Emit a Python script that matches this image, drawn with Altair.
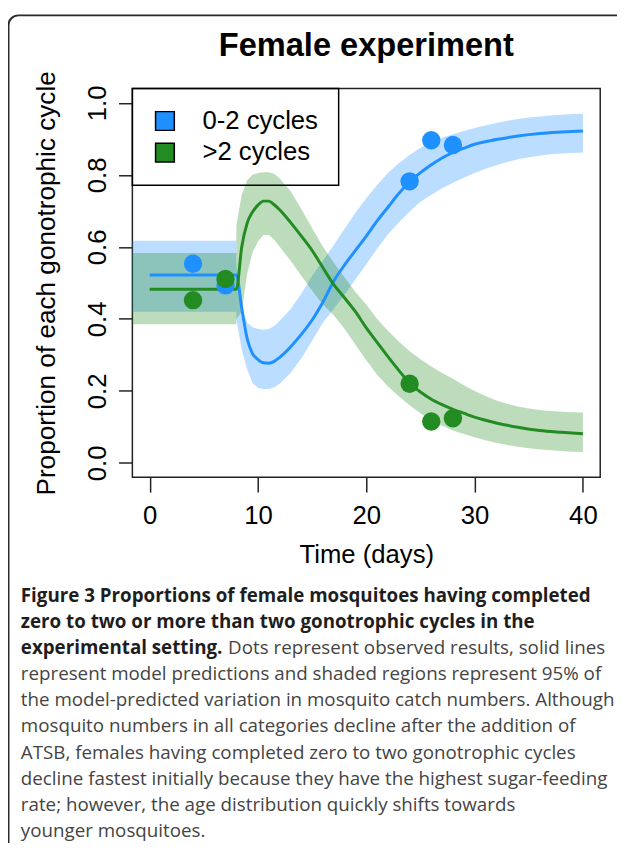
import altair as alt
import pandas as pd

# ---------------- data ----------------
series_names = ["0-2 cycles", ">2 cycles"]
series_colors = ["#1E90FF", "#228B22"]

obs_days = [4, 7, 24, 26, 28]
obs_blue = [0.553, 0.493, 0.782, 0.896, 0.883]
obs_green = [0.452, 0.511, 0.220, 0.115, 0.124]

line_days = [0, 8, 8.5, 9, 9.5, 10, 10.5, 11, 11.5, 12, 13, 14, 15, 16, 17, 18, 19,
             20, 21, 22, 23, 24, 25, 26, 27, 28, 29, 30, 32, 34, 36, 38, 40]
blue_line = [0.522, 0.522, 0.43, 0.345, 0.303, 0.287, 0.278, 0.277, 0.282, 0.293, 0.322,
             0.357, 0.397, 0.447, 0.505, 0.55, 0.59, 0.63, 0.672, 0.71, 0.748, 0.78, 0.806,
             0.828, 0.847, 0.862, 0.874, 0.885, 0.898, 0.908, 0.915, 0.919, 0.922]
green_line = [0.482, 0.482, 0.60, 0.666, 0.697, 0.716, 0.727, 0.727, 0.717, 0.703, 0.668,
              0.63, 0.59, 0.542, 0.495, 0.458, 0.42, 0.375, 0.335, 0.295, 0.257, 0.222, 0.197,
              0.177, 0.162, 0.149, 0.138, 0.127, 0.111, 0.099, 0.09, 0.085, 0.081]

band_days = [-2, 8, 8, 8.5, 9, 9.5, 10, 10.5, 11, 11.5, 12, 13, 14, 15, 16, 17, 18, 19, 20,
             21, 22, 23, 24, 25, 26, 27, 28, 29, 30, 31, 32, 33, 34, 35, 36, 37, 38, 39, 40]
blue_lo = [0.42, 0.42, 0.40, 0.315, 0.26, 0.222, 0.208, 0.205, 0.205, 0.21, 0.22, 0.25, 0.29,
           0.34, 0.39, 0.428, 0.468, 0.51, 0.552, 0.595, 0.635, 0.668, 0.698, 0.725, 0.745,
           0.763, 0.778, 0.792, 0.805, 0.817, 0.827, 0.836, 0.843, 0.849, 0.853, 0.857, 0.859,
           0.861, 0.862]
blue_hi = [0.617, 0.617, 0.55, 0.43, 0.39, 0.377, 0.372, 0.37, 0.372, 0.38, 0.395, 0.427, 0.47,
           0.52, 0.562, 0.605, 0.65, 0.695, 0.735, 0.772, 0.805, 0.832, 0.855, 0.875, 0.89,
           0.903, 0.913, 0.922, 0.93, 0.937, 0.944, 0.95, 0.955, 0.959, 0.962, 0.965, 0.967,
           0.969, 0.97]
green_lo = [0.385, 0.385, 0.40, 0.42, 0.525, 0.585, 0.615, 0.633, 0.633, 0.62, 0.60, 0.562,
            0.52, 0.478, 0.44, 0.41, 0.372, 0.328, 0.285, 0.245, 0.212, 0.185, 0.16, 0.138,
            0.118, 0.103, 0.09, 0.08, 0.071, 0.063, 0.056, 0.05, 0.045, 0.041, 0.038, 0.035,
            0.033, 0.031, 0.03]
green_hi = [0.583, 0.583, 0.66, 0.745, 0.785, 0.80, 0.805, 0.807, 0.807, 0.803, 0.79, 0.755,
            0.705, 0.652, 0.6, 0.556, 0.515, 0.475, 0.44, 0.40, 0.367, 0.337, 0.31, 0.288,
            0.268, 0.25, 0.234, 0.216, 0.2, 0.186, 0.173, 0.164, 0.157, 0.151, 0.147, 0.144,
            0.142, 0.141, 0.14]

x_ticks = [0, 10, 20, 30, 40]
y_ticks = [0.0, 0.2, 0.4, 0.6, 0.8, 1.0]

chart_title = "Female experiment"
x_title = "Time (days)"
y_title = "Proportion of each gonotrophic cycle"

caption_bold = [
    "Figure 3 Proportions of female mosquitoes having completed",
    "zero to two or more than two gonotrophic cycles in the",
    "experimental setting.",
]
caption_regular = [
    "Dots represent observed results, solid lines",
    "represent model predictions and shaded regions represent 95% of",
    "the model-predicted variation in mosquito catch numbers. Although",
    "mosquito numbers in all categories decline after the addition of",
    "ATSB, females having completed zero to two gonotrophic cycles",
    "decline fastest initially because they have the highest sugar-feeding",
    "rate; however, the age distribution quickly shifts towards",
    "younger mosquitoes.",
]

# ---------------- layout constants ----------------
W, H = 474, 394
PAD_L, PAD_T, PAD_R = 126, 76, 17
TOTAL_H = 835
AX_FONT = "Liberation Sans"
CAP_FONT = "Open Sans"
CAP_SIZE_B = 19
CAP_SIZE_R = 19
CAP_X = -113
CAP_Y0 = 520
CAP_DY = 26.5
REG_X3 = 97

# ---------------- tables ----------------
obs_df = pd.DataFrame({
    "day": obs_days + obs_days,
    "value": obs_blue + obs_green,
    "series": [series_names[0]] * len(obs_days) + [series_names[1]] * len(obs_days),
})
blue_line_df = pd.DataFrame({"day": line_days, "value": blue_line})
green_line_df = pd.DataFrame({"day": line_days, "value": green_line})
blue_band_df = pd.DataFrame({"day": band_days, "lo": blue_lo, "hi": blue_hi})
green_band_df = pd.DataFrame({"day": band_days, "lo": green_lo, "hi": green_hi})

bold_df = pd.DataFrame({
    "text": caption_bold,
    "px": [CAP_X] * len(caption_bold),
    "py": [CAP_Y0 + CAP_DY * i for i in range(len(caption_bold))],
})
reg_df = pd.DataFrame({
    "text": caption_regular,
    "px": [REG_X3] + [CAP_X] * (len(caption_regular) - 1),
    "py": [CAP_Y0 + CAP_DY * (i + 2) for i in range(len(caption_regular))],
})

# ---------------- scales / axes ----------------
xscale = alt.Scale(domain=[-1.6, 41.6], nice=False, zero=False)
yscale = alt.Scale(domain=[-0.04, 1.04], nice=False, zero=False)

xaxis = alt.Axis(
    values=x_ticks, domain=False, grid=False, ticks=True, tickSize=15, tickWidth=1.5,
    tickColor="#222", labelFont=AX_FONT, labelFontSize=26, labelColor="black",
    labelPadding=32, labelBaseline="alphabetic", labelFlush=False, labelOverlap=False,
    title=x_title, titleFont=AX_FONT, titleFontSize=26, titleFontWeight="normal",
    titleColor="black", titleX=W / 2, titleY=86, titleBaseline="alphabetic", titleAlign="center",
)
yaxis = alt.Axis(
    values=y_ticks, format=".1f", domain=False, grid=False, ticks=True, tickSize=14,
    tickWidth=1.5, tickColor="#222", labelFont=AX_FONT, labelFontSize=26, labelColor="black",
    labelAngle=270, labelAlign="center", labelBaseline="alphabetic", labelPadding=13.5,
    labelFlush=False, labelOverlap=False,
    title=y_title, titleFont=AX_FONT, titleFontSize=26.5, titleFontWeight="normal",
    titleColor="black", titleAngle=270, titleX=-79, titleY=H / 2, titleAlign="center",
    titleBaseline="alphabetic",
)


def xe(field="day"):
    return alt.X(f"{field}:Q", scale=xscale, axis=xaxis)


def ye(field):
    return alt.Y(f"{field}:Q", scale=yscale, axis=yaxis)


cscale = alt.Scale(domain=series_names, range=series_colors)

# ---------------- layers ----------------
border = alt.Chart(pd.DataFrame({"a": [0]})).mark_rect(
    fill="white", fillOpacity=0, stroke="#2a2a2a", strokeWidth=2, cornerRadius=10
).encode(
    x=alt.value(-PAD_L + 0.5), x2=alt.value(W + PAD_R + 30),
    y=alt.value(-PAD_T + 2), y2=alt.value(TOTAL_H - PAD_T + 30),
)

blue_band = alt.Chart(blue_band_df).mark_area(
    color=series_colors[0], opacity=0.3, interpolate="linear", clip=True
).encode(x=xe(), y=ye("lo"), y2="hi:Q")

green_band = alt.Chart(green_band_df).mark_area(
    color=series_colors[1], opacity=0.3, interpolate="linear", clip=True
).encode(x=xe(), y=ye("lo"), y2="hi:Q")

blue_ln = alt.Chart(blue_line_df).mark_line(
    color=series_colors[0], strokeWidth=3, interpolate="monotone"
).encode(x=xe(), y=ye("value"))

green_ln = alt.Chart(green_line_df).mark_line(
    color=series_colors[1], strokeWidth=3, interpolate="monotone"
).encode(x=xe(), y=ye("value"))

points = alt.Chart(obs_df).mark_circle(size=346, opacity=1).encode(
    x=xe(), y=ye("value"),
    color=alt.Color("series:N", scale=cscale, legend=alt.Legend(
        title=None, orient="none", legendX=0, legendY=0, symbolType="square",
        symbolSize=361, symbolStrokeColor="black", symbolStrokeWidth=1.5, symbolOpacity=1,
        labelFont=AX_FONT, labelFontSize=26, labelColor="black", labelOffset=25,
        labelLimit=300, rowPadding=6, padding=20, strokeColor="black",
    )),
)

title_txt = alt.Chart(pd.DataFrame({"t": [chart_title]})).mark_text(
    font=AX_FONT, fontSize=33, fontWeight="bold", color="black", align="center",
    baseline="alphabetic"
).encode(text="t:N", x=alt.value(W / 2), y=alt.value(-33))

cap_bold = alt.Chart(bold_df).mark_text(
    font=CAP_FONT, fontSize=CAP_SIZE_B, fontWeight="bold", color="#1e1e1e", align="left",
    baseline="alphabetic"
).encode(text="text:N", x=alt.X("px:Q", scale=None), y=alt.Y("py:Q", scale=None))

cap_reg = alt.Chart(reg_df).mark_text(
    font=CAP_FONT, fontSize=CAP_SIZE_R, color="#444444", align="left", baseline="alphabetic"
).encode(text="text:N", x=alt.X("px:Q", scale=None), y=alt.Y("py:Q", scale=None))

chart = alt.layer(
    border, blue_band, green_band, blue_ln, green_ln, points, title_txt, cap_bold, cap_reg
).resolve_scale(x="shared", y="shared").properties(
    width=W, height=H,
    autosize=alt.AutoSizeParams(type="none"),
    padding={"left": PAD_L, "top": PAD_T, "right": PAD_R, "bottom": TOTAL_H - PAD_T - H},
    background="white",
).configure_view(stroke="#222", strokeWidth=1.5).configure_legend(strokeWidth=1.5)

chart.save("out.html", embed_options={"renderer": "svg", "actions": False})
